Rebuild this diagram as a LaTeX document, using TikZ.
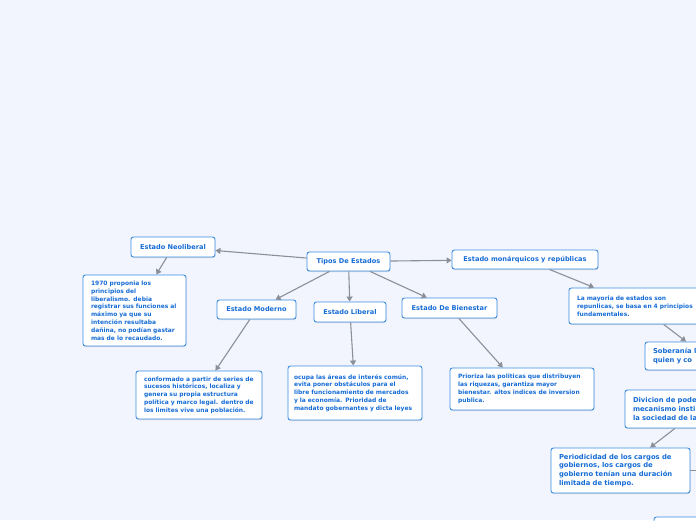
\documentclass[tikz,border=0pt]{standalone}
\usepackage{fontspec}
\setmainfont{DejaVu Sans}
\usetikzlibrary{arrows.meta,shadows}
\definecolor{bgc}{RGB}{242,245,253}
\definecolor{txtc}{RGB}{22,108,214}
\definecolor{bordc}{RGB}{58,140,226}
\definecolor{linec}{RGB}{138,143,153}
\tikzset{
  box/.style={draw=bordc, line width=0.9pt, fill=white, rounded corners=2.5pt,
    text=txtc, font=\bfseries\fontsize{6.6}{8}\selectfont, inner sep=0pt,
    drop shadow={shadow xshift=0.4pt, shadow yshift=-1pt, opacity=0.25}},
  title/.style={box, align=center},
  txt/.style={box, align=left, inner xsep=8pt, font=\bfseries\fontsize{5.95}{7.8}\selectfont},
  txtm/.style={txt, font=\bfseries\fontsize{5.95}{8.2}\selectfont},
  txtl/.style={txt, font=\bfseries\fontsize{6.8}{8.8}\selectfont},
  conn/.style={draw=linec, line width=1.1pt, -{Triangle[width=6pt,length=5pt]}},
  plain/.style={draw=linec, line width=1.1pt}
}
\begin{document}
\begin{tikzpicture}[x=1pt,y=-1pt]
\fill[bgc] (0,0) rectangle (696,520);
\useasboundingbox (0,0) rectangle (696,520);
\clip (0,0) rectangle (696,520);

\node[title, minimum width=83pt, minimum height=19pt] (tipos) at (348.5,261.5) {Tipos De Estados};
\node[title, minimum width=84pt, minimum height=20pt] (neo) at (173,247) {Estado Neoliberal};
\node[txt, text width=87pt, minimum height=71pt] (neot) at (134.5,310.5) {1970 proponia los\\principios del\\liberalismo. debia\\registrar sus funciones al\\máximo ya que su\\intención resultaba\\dañina, no podían gastar\\mas de lo recaudado.};
\node[title, minimum width=79pt, minimum height=19pt] (mod) at (256.5,309.5) {Estado Moderno};
\node[txt, text width=110pt, minimum height=48pt] (modt) at (199,395) {conformado a partir de series de\\sucesos históricos, localiza y\\genera su propia estructura\\política y marco legal. dentro de\\los limites vive una población.};
\node[title, minimum width=72pt, minimum height=20pt] (lib) at (350,312) {Estado Liberal};
\node[txt, inner xsep=6pt, text width=122pt, minimum height=54pt] (libt) at (355,393) {ocupa las áreas de interés común,\\evita poner obstáculos para el\\libre funcionamiento de mercados\\y la economía. Prioridad de\\mandato gobernantes y dicta leyes};
\node[title, minimum width=95pt, minimum height=20pt] (bien) at (449.5,308) {Estado De Bienestar};
\node[txt, text width=128pt, minimum height=42pt] (bient) at (522,389) {Prioriza las politicas que distribuyen\\las riquezas, garantiza mayor\\bienestar. altos indices de inversion\\publica.};
\node[title, minimum width=146pt, minimum height=19pt] (mon) at (525,259.5) {Estado monárquicos y repúblicas};
\node[txtm, text width=125pt, minimum height=36pt] (may) at (639.5,306) {La mayoria de estados son\\repunlicas, se basa en 4 principios\\fundamentales.};
\node[txtl, text width=104pt, minimum height=28pt] (sob) at (705,356) {Soberanía l\\quien y co};
\node[txtl, text width=134pt, minimum height=38pt] (div) at (700,409) {Divicion de pode\\mecanismo insti\\la sociedad de la};
\node[txtl, text width=123pt, minimum height=45pt] (per) at (620.5,470.5) {Periodicidad de los cargos de\\gobiernos, los cargos de\\gobierno tenían una duración\\limitada de tiempo.};
\node[txt, text width=110pt, minimum height=40pt] (bot) at (717,537) {};
\coordinate (perout) at (740,470.5);

\draw[conn] (tipos) -- (neo);
\draw[conn] (tipos) -- (mod);
\draw[conn] (tipos) -- (lib);
\draw[conn] (tipos) -- (bien);
\draw[conn] (tipos) -- (mon);
\draw[conn] (neo) -- (neot);
\draw[conn] (mod) -- (modt);
\draw[conn] (lib) -- (libt);
\draw[conn] (bien) -- (bient);
\draw[conn] (mon) -- (may);
\draw[conn] (may) -- (sob);
\draw[conn] (div) -- (per);
\draw[plain] (per) -- (perout);
\end{tikzpicture}
\end{document}
